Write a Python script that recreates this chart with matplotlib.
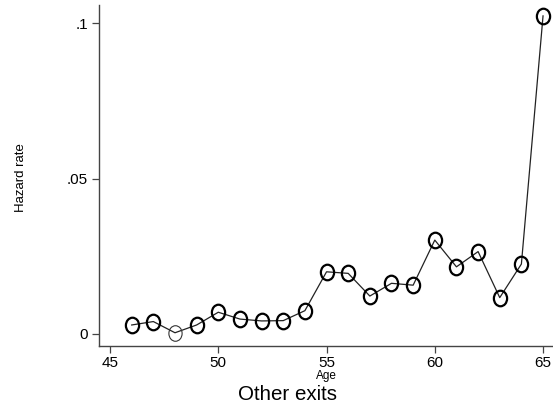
import matplotlib
matplotlib.use('Agg')
import matplotlib.pyplot as plt
from matplotlib.path import Path
from matplotlib.transforms import Affine2D

plt.rcParams['font.family'] = ['Liberation Sans', 'DejaVu Sans']

# Hazard rate for "other exits" by age
ages = [46, 47, 48, 49, 50, 51, 52, 53, 54, 55,
        56, 57, 58, 59, 60, 61, 62, 63, 64, 65]
hazard = [0.0029, 0.0040, 0.0004, 0.0029, 0.0070, 0.0048, 0.0042, 0.0043, 0.0075, 0.0200,
          0.0195, 0.0122, 0.0163, 0.0157, 0.0302, 0.0216, 0.0265, 0.0117, 0.0225, 0.1023]
xticks = [45, 50, 55, 60, 65]
yticks = [0, 0.05, 0.1]
ytick_labels = ['0', '.05', '.1']

# slightly tall ellipse, like the Stata hollow circle in the picture
ellipse = Path.unit_circle().transformed(Affine2D().scale(0.85, 1.0))

fig = plt.figure(figsize=(5.53, 4.12), dpi=100)
ax = fig.add_axes([99 / 553, 66 / 412, 454 / 553, 341 / 412])

ax.plot(ages, hazard, color='#222222', linewidth=0.9, zorder=2)
thick = [i for i, a in enumerate(ages) if a != 48]
ax.plot([ages[i] for i in thick], [hazard[i] for i in thick], linestyle='none',
        marker=ellipse, markersize=11.2, markerfacecolor='none',
        markeredgecolor='black', markeredgewidth=1.6, zorder=3)
thin = [i for i, a in enumerate(ages) if a == 48]
ax.plot([ages[i] for i in thin], [hazard[i] for i in thin], linestyle='none',
        marker=ellipse, markersize=11.2, markerfacecolor='none',
        markeredgecolor='#333333', markeredgewidth=0.8, zorder=3)

ax.set_xlim(44.49, 65.46)
ax.set_ylim(-0.00386, 0.1058)
ax.set_xticks(xticks)
ax.set_xticklabels([str(t) for t in xticks])
ax.set_yticks(yticks)
ax.set_yticklabels(ytick_labels)

for side in ['top', 'right']:
    ax.spines[side].set_visible(False)
for side in ['left', 'bottom']:
    ax.spines[side].set_color('#444444')
    ax.spines[side].set_linewidth(1.0)
ax.tick_params(axis='both', length=5, width=0.9, color='#444444',
               labelsize=11, pad=2)
ax.tick_params(axis='y', pad=3)

fig.text(21 / 553, 1 - 178 / 412, 'Hazard rate', rotation=90,
         ha='center', va='center', fontsize=9.5)
fig.text(326 / 553, 1 - 379 / 412, 'Age', ha='center', va='baseline', fontsize=8.5)
fig.text(288 / 553, 1 - 400 / 412, 'Other exits', ha='center', va='baseline', fontsize=14.8)

fig.savefig('out.png', dpi=100)
